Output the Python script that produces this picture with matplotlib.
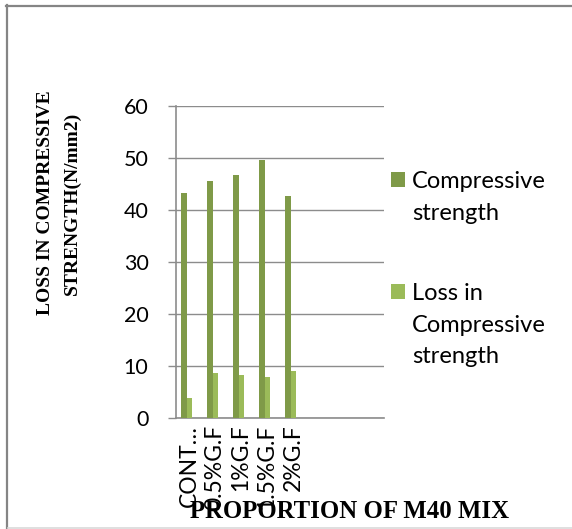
import numpy as np
import matplotlib
matplotlib.use("Agg")
import matplotlib.pyplot as plt
from matplotlib.patches import Rectangle
from matplotlib.lines import Line2D

# M40 mix, compressive strength and its loss (N/mm2)
categories = ["CONT\u2026", "0.5%G.F", "1%G.F", "1.5%G.F", "2%G.F", "", "", ""]
compressive = [43.2, 45.6, 46.6, 49.6, 42.7]
loss = [3.7, 8.6, 8.2, 7.9, 8.9]
series_names = ["Compressive\nstrength", "Loss in\nCompressive\nstrength"]
series_colors = ["#7F9A48", "#9BBB59"]
yticks = [0, 10, 20, 30, 40, 50, 60]

W, H = 572, 529
fig = plt.figure(figsize=(W / 100, H / 100), dpi=100)


def px(x, y):
    return x / W, 1 - y / H


# outer chart frame
fig.add_artist(Line2D([6.5 / W, 6.5 / W], [0, 1 - 5 / H], color="#858585", lw=1.6))
fig.add_artist(Line2D([6 / W, 1], [1 - 5.5 / H, 1 - 5.5 / H], color="#858585", lw=1.6))
fig.add_artist(Line2D([8 / W, 1], [1 - 528 / H, 1 - 528 / H], color="#d9d9d9", lw=1.2))

ax = fig.add_axes([176 / W, 1 - 417.7 / H, 208 / W, 312 / H])

x = np.arange(len(categories))
width = 0.22
ax.bar(x[:len(compressive)] - 0.205, compressive, width, color=series_colors[0], zorder=3)
ax.bar(x[:len(loss)] + 0.015, loss, width, color=series_colors[1], zorder=3)

ax.set_xlim(-0.5, len(categories) - 0.5)
ax.set_ylim(0, 60)
ax.set_yticks(yticks)
ax.yaxis.grid(True, color="#8c8c8c", lw=1.0, zorder=0)
ax.set_axisbelow(True)

for side in ["top", "right"]:
    ax.spines[side].set_visible(False)
ax.spines["left"].set_color("#8c8c8c")
ax.spines["left"].set_linewidth(1.2)
ax.spines["bottom"].set_color("#8c8c8c")
ax.spines["bottom"].set_linewidth(1.2)

ax.tick_params(axis="y", length=5.8, width=1.0, color="#8c8c8c", pad=14,
               labelsize=15.5)
for lab in ax.get_yticklabels():
    lab.set_family("Lato")

ax.set_xticks(x)
ax.set_xticklabels(categories, rotation=90, fontsize=16.5, family="Lato")
ax.tick_params(axis="x", length=0, pad=5)

# axis titles
fig.text(*px(59, 203), "LOSS IN COMPRESSIVE\nSTRENGTH(N/mm2)", rotation=90,
         ha="center", va="center", multialignment="center",
         family="Liberation Serif", weight="bold", fontsize=14, linespacing=1.7)
fig.text(*px(350, 511), "PROPORTION OF M40 MIX", ha="center", va="center",
         family="Liberation Serif", weight="bold", fontsize=17.8)

# legend
entry_top = [172, 284]
for name, color, top in zip(series_names, series_colors, entry_top):
    fig.add_artist(Rectangle(px(391, top + 15), 14 / W, 15 / H,
                             facecolor=color, edgecolor="none"))
    for i, line in enumerate(name.split("\n")):
        fig.text(*px(412, top + 16 + i * 31.5), line, ha="left", va="baseline",
                 family="Lato", fontsize=17)

fig.savefig("out.png", dpi=100)
